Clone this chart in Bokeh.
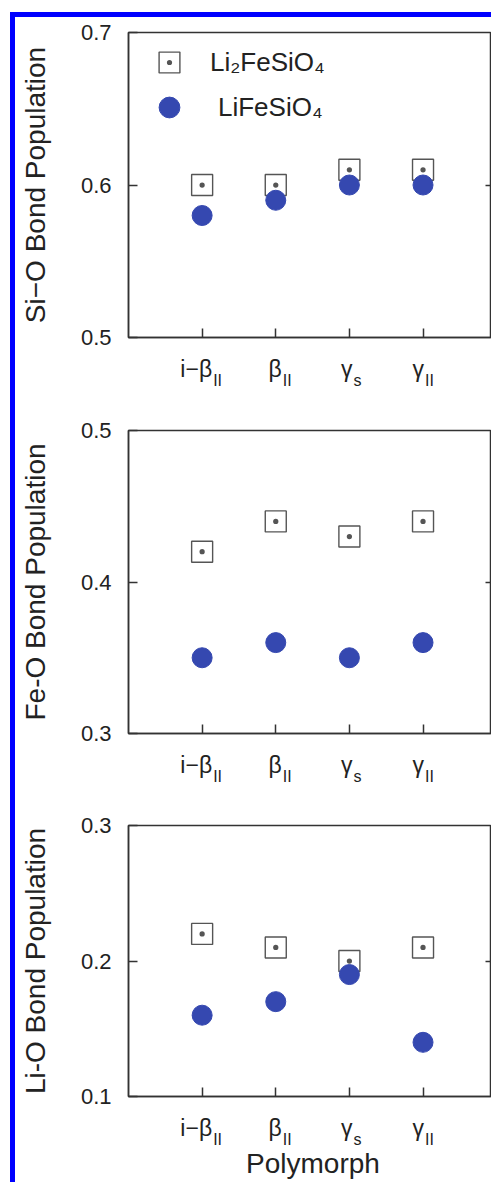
from bokeh.plotting import figure
from bokeh.models import FixedTicker, LinearAxis, Legend, LegendItem, Range1d
from bokeh.layouts import column
from bokeh.core.properties import value
from bokeh.embed import file_html
from bokeh.resources import INLINE

# ---------------- data ----------------
positions = [1, 2, 3, 4]
polymorph_main = ["i\u2212\u03b2", "\u03b2", "\u03b3", "\u03b3"]
polymorph_sub = ["II", "II", "s", "II"]

si_o_li2 = [0.60, 0.60, 0.61, 0.61]
si_o_li = [0.58, 0.59, 0.60, 0.60]
fe_o_li2 = [0.42, 0.44, 0.43, 0.44]
fe_o_li = [0.35, 0.36, 0.35, 0.36]
li_o_li2 = [0.22, 0.21, 0.20, 0.21]
li_o_li = [0.16, 0.17, 0.19, 0.14]

si_o_ticks = [0.5, 0.6, 0.7]
fe_o_ticks = [0.3, 0.4, 0.5]
li_o_ticks = [0.1, 0.2, 0.3]

series_names = ["Li\u2082FeSiO\u2084", "LiFeSiO\u2084"]
x_title = "Polymorph"

# ---------------- style ----------------
FONT = "Liberation Sans"
AX = "#333333"
TXT = "#222222"
BLUE = "#3548b0"
W = 476
LEFT = 113
label_xoff = [10, 6, 3, 1]
XR = (0, 4.93)
MB = 14  # bottom border of each main figure (inward ticks only)

panels = [
    dict(ylabel="Si\u2212O Bond Population", ticks=si_o_ticks, a=si_o_li2, b=si_o_li,
         mt=15, fh=305, strip=58, legend=True, xlabel=False),
    dict(ylabel="Fe-O Bond Population", ticks=fe_o_ticks, a=fe_o_li2, b=fe_o_li,
         mt=35, fh=303, strip=58, legend=False, xlabel=False),
    dict(ylabel="Li-O Bond Population", ticks=li_o_ticks, a=li_o_li2, b=li_o_li,
         mt=34, fh=271, strip=86, legend=False, xlabel=True),
]


def right_axis(mid, visible=True):
    c = AX if visible else None
    return LinearAxis(ticker=FixedTicker(ticks=[mid]),
                      major_label_overrides={mid: ""},
                      major_label_text_font_size="1px",
                      major_tick_in=6, major_tick_out=0, major_label_standoff=0,
                      minor_tick_line_color=None, axis_line_color=c,
                      axis_line_width=1.5, major_tick_line_color=c,
                      major_tick_line_width=1.5)


children = []
for cfg in panels:
    lo, mid, hi = cfg["ticks"]
    x_range = Range1d(*XR)
    p = figure(width=W, height=cfg["mt"] + cfg["fh"] + MB,
               x_range=x_range, y_range=Range1d(lo, hi),
               output_backend="svg", toolbar_location=None,
               min_border_left=LEFT, min_border_right=0,
               min_border_top=cfg["mt"], min_border_bottom=MB)
    p.xgrid.visible = False
    p.ygrid.visible = False
    p.outline_line_color = AX
    p.outline_line_width = 1.5
    p.outline_line_alpha = 1.0

    ya = p.yaxis[0]
    ya.ticker = FixedTicker(ticks=cfg["ticks"])
    ya.major_label_overrides = {t: f"{t:.1f}" for t in cfg["ticks"]}
    ya.major_tick_in = 9
    ya.major_tick_out = 0
    ya.minor_tick_line_color = None
    ya.axis_line_color = AX
    ya.axis_line_width = 1.5
    ya.major_tick_line_color = AX
    ya.major_tick_line_width = 1.5
    ya.major_label_text_font = FONT
    ya.major_label_text_font_size = "22px"
    ya.major_label_text_color = TXT
    ya.major_label_standoff = 17
    ya.axis_label = cfg["ylabel"]
    ya.axis_label_text_font = FONT
    ya.axis_label_text_font_size = "28px"
    ya.axis_label_text_font_style = "normal"
    ya.axis_label_text_color = TXT
    ya.axis_label_standoff = 27

    xa = p.xaxis[0]
    xa.ticker = FixedTicker(ticks=positions)
    xa.major_label_overrides = {t: "" for t in positions}
    xa.major_label_text_font_size = "1px"
    xa.major_tick_in = 9
    xa.major_tick_out = 0
    xa.minor_tick_line_color = None
    xa.axis_line_color = AX
    xa.axis_line_width = 1.5
    xa.major_tick_line_color = AX
    xa.major_tick_line_width = 1.5
    xa.major_label_standoff = 0

    p.add_layout(right_axis(mid), "right")

    r_a = p.scatter(positions, cfg["a"], marker="square_dot", size=21,
                    line_color="#555555", line_width=1.4, fill_color=None)
    r_b = p.scatter(positions, cfg["b"], marker="circle", size=20,
                    fill_color=BLUE, line_color=BLUE)

    if cfg["legend"]:
        for name, r, loc, standoff in [(series_names[0], r_a, (15, 249), 15),
                                       (series_names[1], r_b, (15, 204), 23)]:
            leg = Legend(items=[LegendItem(label=name, renderers=[r])],
                         location=loc, glyph_width=52, glyph_height=52,
                         label_standoff=standoff, padding=0, margin=0, spacing=0,
                         border_line_color=None, background_fill_alpha=0,
                         label_text_font=FONT, label_text_font_size="26px",
                         label_text_color=TXT)
            p.add_layout(leg, "center")
    children.append(p)

    # strip below the frame holding the category labels (1 y unit = 1 px,
    # measured downward from the frame bottom)
    depth = cfg["strip"]
    s = figure(width=W, height=depth - MB, x_range=x_range,
               y_range=Range1d(-depth, -MB),
               output_backend="svg", toolbar_location=None,
               x_axis_location=None, y_axis_location=None,
               min_border_left=LEFT, min_border_right=0,
               min_border_top=0, min_border_bottom=0)
    s.xgrid.visible = False
    s.ygrid.visible = False
    s.outline_line_color = None
    s.add_layout(right_axis(mid, visible=False), "right")
    s.text(x=positions, y=[-31] * 4, text=polymorph_main, x_offset=label_xoff,
           text_align="right", text_baseline="alphabetic",
           text_font=value(FONT), text_font_size="23px", text_color=TXT)
    s.text(x=positions, y=[-43] * 4, text=polymorph_sub,
           x_offset=[v + 1 for v in label_xoff],
           text_align="left", text_baseline="alphabetic",
           text_font=value(FONT), text_font_size="16px", text_color=TXT)
    if cfg["xlabel"]:
        s.text(x=[(XR[0] + XR[1]) / 2 + 0.04], y=[-67], text=[x_title],
               text_align="center", text_baseline="alphabetic",
               text_font=value(FONT), text_font_size="28px", text_color=TXT)
    children.append(s)

layout = column(*children, margin=(12, 0, 0, 10), spacing=0,
                styles={"border-left": "5px solid #0000ff",
                        "border-top": "5px solid #0000ff"})

open("out.html", "w").write(file_html(layout, INLINE))
